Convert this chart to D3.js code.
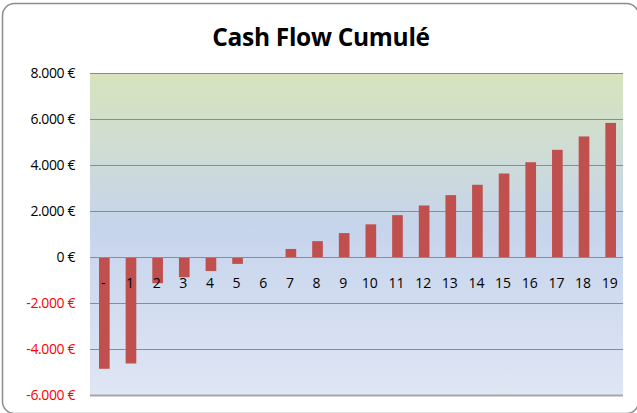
<!DOCTYPE html>
<html>
<head>
<meta charset="utf-8">
<script src="https://cdn.jsdelivr.net/npm/d3@7"></script>
<style>
  body { margin: 0; background: #fff; }
  text { font-family: "Open Sans", "Liberation Sans", sans-serif; }
</style>
</head>
<body>
<div id="chart-container"></div>
<script>
// chart data
const categories = ["-", "1", "2", "3", "4", "5", "6", "7", "8", "9", "10",
  "11", "12", "13", "14", "15", "16", "17", "18", "19"];
const cashFlow = [-4860, -4630, -1140, -880, -610, -300, 0, 350, 690, 1040, 1420,
  1820, 2240, 2690, 3140, 3630, 4120, 4660, 5240, 5830];
const yTicks = [-6000, -4000, -2000, 0, 2000, 4000, 6000, 8000];
const title = "Cash Flow Cumulé";

const W = 637, H = 413;
const margin = { top: 73, right: 14, bottom: 18, left: 90 };
const width = W - margin.left - margin.right;
const height = H - margin.top - margin.bottom;

const svg = d3.select("#chart-container")
  .append("svg")
  .attr("width", W)
  .attr("height", H);

// gradient for the plot area
const defs = svg.append("defs");
const grad = defs.append("linearGradient")
  .attr("id", "plotBg")
  .attr("x1", 0).attr("y1", 0).attr("x2", 0).attr("y2", 1);
grad.append("stop").attr("offset", "0%").attr("stop-color", "#d7e4bd");
grad.append("stop").attr("offset", "48%").attr("stop-color", "#c6d4ec");
grad.append("stop").attr("offset", "100%").attr("stop-color", "#dfe6f4");

// outer frame
svg.append("rect")
  .attr("x", 2.5).attr("y", 3.5)
  .attr("width", 636).attr("height", 410)
  .attr("rx", 12)
  .attr("fill", "#fff")
  .attr("stroke", "#8c8c8c")
  .attr("stroke-width", 1.5);

// title
svg.append("text")
  .attr("x", 321)
  .attr("y", 46)
  .attr("text-anchor", "middle")
  .style("font-size", "24.5px")
  .style("font-weight", "bold")
  .style("letter-spacing", "-0.3px")
  .attr("fill", "#000")
  .text(title);

const g = svg.append("g")
  .attr("transform", `translate(${margin.left},${margin.top})`);

const x = d3.scaleBand()
  .domain(categories)
  .range([0, width])
  .paddingInner(0.6)
  .paddingOuter(0.3);

const y = d3.scaleLinear()
  .domain([-6000, 8000])
  .range([height, 0]);

g.append("rect")
  .attr("width", width)
  .attr("height", height)
  .attr("fill", "url(#plotBg)");

// horizontal gridlines
g.selectAll(".grid")
  .data(yTicks)
  .join("line")
  .attr("x1", 0)
  .attr("x2", width)
  .attr("y1", d => Math.round(y(d)) + 0.5)
  .attr("y2", d => Math.round(y(d)) + 0.5)
  .attr("stroke", d => d === -6000 ? "#a6a6a6" : "#8c8c8c")
  .attr("stroke-width", d => d === -6000 ? 2 : 1);

// y axis labels
const fmt = d => {
  const s = d3.format(",")(Math.abs(d)).replace(/,/g, ".");
  return (d < 0 ? "-" : "") + s + " €";
};
g.append("g")
  .call(d3.axisLeft(y).tickValues(yTicks).tickFormat(fmt).tickSize(0).tickPadding(15))
  .call(a => a.select(".domain").remove())
  .selectAll(".tick text")
  .style("font-size", "14px")
  .style("letter-spacing", "-0.4px")
  .style("font-family", "\"Open Sans\", sans-serif")
  .attr("fill", d => d < 0 ? "#ff0000" : "#000");

// bars
g.selectAll(".bar")
  .data(cashFlow)
  .join("rect")
  .attr("x", (d, i) => x(categories[i]) + 1)
  .attr("width", x.bandwidth())
  .attr("y", d => y(Math.max(0, d)))
  .attr("height", d => Math.abs(y(d) - y(0)))
  .attr("fill", "#c0504d");

// zero line over the bars
g.append("line")
  .attr("x1", 0).attr("x2", width)
  .attr("y1", Math.round(y(0)) + 0.5).attr("y2", Math.round(y(0)) + 0.5)
  .attr("stroke", "#8c8c8c");

// category labels below the zero line
g.append("g")
  .attr("transform", `translate(0,${y(0)})`)
  .call(d3.axisBottom(x).tickSize(0).tickPadding(21))
  .call(a => a.select(".domain").remove())
  .selectAll(".tick text")
  .style("font-size", "14px")
  .style("font-family", "\"Open Sans\", sans-serif")
  .attr("fill", "#000");
</script>
</body>
</html>
